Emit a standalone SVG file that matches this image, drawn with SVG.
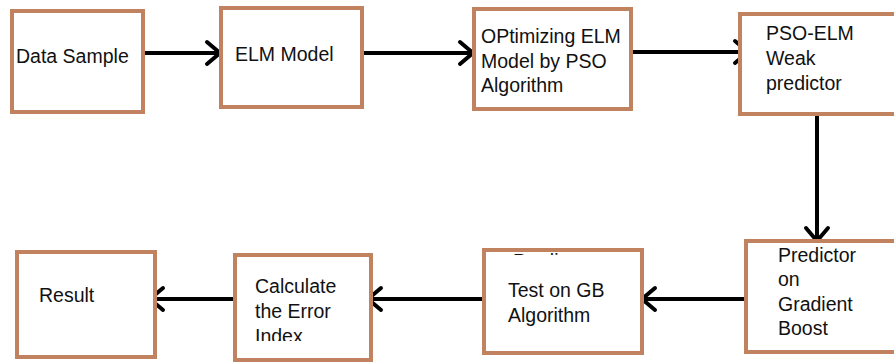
<svg xmlns="http://www.w3.org/2000/svg" width="894" height="362" viewBox="0 0 894 362">
  <style>
    .box { fill: #ffffff; stroke: #c0825f; stroke-width: 4; }
    .lbl { font-family: "Liberation Sans", Arial, sans-serif; font-size: 19.5px; fill: #111111; }
    .wire { fill: none; stroke: #000000; stroke-width: 4; }
    .head { fill: none; stroke: #000000; stroke-width: 4; stroke-linecap: round; stroke-linejoin: miter; }
  </style>
  <defs>
    <clipPath id="clipIndex"><rect x="230" y="250" width="150" height="91"/></clipPath>
    <clipPath id="clipGhost"><rect x="500" y="250" width="80" height="5"/></clipPath>
  </defs>
  <rect width="894" height="362" fill="#ffffff"/>

  <g id="connectors">
    <!-- top row, left to right -->
    <path class="wire" d="M143 53 H219"/>
    <path class="head" d="M207 42 L220 53 L207 64"/>
    <path class="wire" d="M363 53 H472"/>
    <path class="head" d="M460 42 L473 53 L460 64"/>
    <path class="wire" d="M632 52 H747"/>
    <path class="head" d="M735 41 L748 52 L735 63"/>
    <!-- drop to the lower row -->
    <path class="wire" d="M817 115 V240"/>
    <path class="head" d="M806 228 L817 241 L828 228"/>
    <!-- bottom row, right to left -->
    <path class="wire" d="M752 299 H643"/>
    <path class="head" d="M655 288 L642 299 L655 310"/>
    <path class="wire" d="M487 299 H369"/>
    <path class="head" d="M381 288 L368 299 L381 310"/>
    <path class="wire" d="M238 299 H151"/>
    <path class="head" d="M163 288 L150 299 L163 310"/>
  </g>

  <g id="data-sample">
    <rect class="box" x="12" y="11" width="131" height="101"/>
    <text class="lbl" x="16" y="63">Data Sample</text>
  </g>

  <g id="elm-model">
    <rect class="box" x="221" y="8" width="141" height="99"/>
    <text class="lbl" x="235" y="61">ELM Model</text>
  </g>

  <g id="optimizing">
    <rect class="box" x="474" y="9" width="157" height="100"/>
    <text class="lbl" x="481" y="43">OPtimizing ELM</text>
    <text class="lbl" x="481" y="68">Model by PSO</text>
    <text class="lbl" x="481" y="92">Algorithm</text>
  </g>

  <g id="pso-elm">
    <rect class="box" x="740" y="14" width="160" height="100"/>
    <text class="lbl" x="766" y="40">PSO-ELM</text>
    <text class="lbl" x="766" y="65">Weak</text>
    <text class="lbl" x="766" y="90">predictor</text>
  </g>

  <g id="gradient-boost">
    <rect class="box" x="746" y="241" width="160" height="111"/>
    <text class="lbl" x="778" y="262">Predictor</text>
    <text class="lbl" x="778" y="286">on</text>
    <text class="lbl" x="778" y="311">Gradient</text>
    <text class="lbl" x="778" y="335">Boost</text>
  </g>

  <g id="test-gb">
    <rect class="box" x="484" y="250" width="158" height="103"/>
    <text class="lbl" x="513" y="268" clip-path="url(#clipGhost)">Predic</text>
    <text class="lbl" x="508" y="297">Test on GB</text>
    <text class="lbl" x="508" y="322">Algorithm</text>
  </g>

  <g id="error-index">
    <rect class="box" x="235" y="255" width="136" height="105"/>
    <text class="lbl" x="255" y="293">Calculate</text>
    <text class="lbl" x="255" y="318">the Error</text>
    <text class="lbl" x="255" y="343" clip-path="url(#clipIndex)">Index</text>
  </g>

  <g id="result">
    <rect class="box" x="17" y="252" width="138" height="105"/>
    <text class="lbl" x="39" y="302">Result</text>
  </g>
</svg>
